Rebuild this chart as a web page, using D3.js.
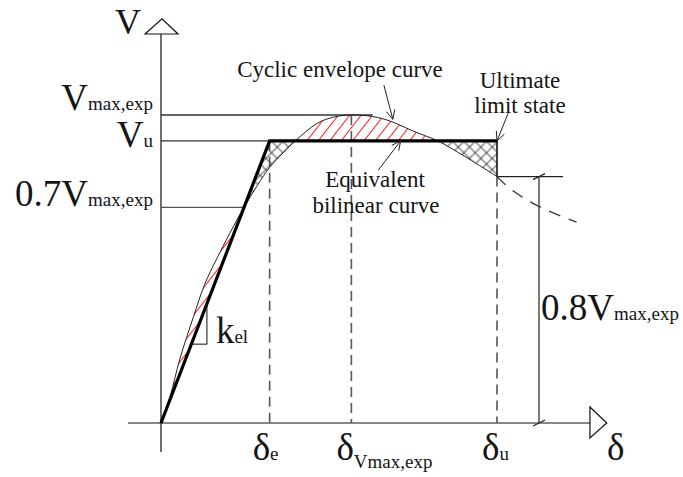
<!DOCTYPE html>
<html>
<head>
<meta charset="utf-8">
<script src="https://cdn.jsdelivr.net/npm/d3@7"></script>
<style>
  body { margin: 0; background: #fff; }
  svg { display: block; font-family: "Liberation Serif", "Times New Roman", serif; }
  text { fill: #151515; }
</style>
</head>
<body>
<div id="chart"></div>
<script>
// displacement (mm-ish) and shear (V / Vmax,exp)
var deltaE = 9.7, deltaVmax = 17, deltaU = 30;
var vMax = 1, vU = 0.916, v07 = 0.7, v08 = 0.8;

// cyclic envelope curve
var envelope = [[0,0],[0.8,0.085],[1.7,0.21],[2.9,0.345],[3.9,0.45],[5.0,0.535],[7.41,0.7],
  [9.7,0.83],[10.9,0.877],[12.0,0.916],[13.9,0.972],[15.4,0.993],[17.0,1.0],[18.9,0.995],
  [20.4,0.981],[22.5,0.948],[24.7,0.916],[27.1,0.866],[30,0.8]];
var envelopeTail = [[30,0.8],[31.3,0.757],[33.8,0.702],[37.1,0.652]];

var width = 683, height = 477;

var x = d3.scaleLinear().domain([0, 40]).range([161, 609]);
var y = d3.scaleLinear().domain([0, 1]).range([423, 115]);

var svg = d3.select('#chart').append('svg')
  .attr('width', width)
  .attr('height', height);

var defs = svg.append('defs');

var red = defs.append('pattern')
  .attr('id', 'redHatch')
  .attr('patternUnits', 'userSpaceOnUse')
  .attr('width', 9).attr('height', 9)
  .attr('patternTransform', 'rotate(38)');
red.append('line').attr('x1', 4.5).attr('x2', 4.5).attr('y1', 0).attr('y2', 9)
  .attr('stroke', '#ff2020').attr('stroke-width', 1);

var cross = defs.append('pattern')
  .attr('id', 'crossHatch')
  .attr('patternUnits', 'userSpaceOnUse')
  .attr('width', 8).attr('height', 8)
  .attr('patternTransform', 'rotate(45)');
cross.append('line').attr('x1', 4).attr('x2', 4).attr('y1', 0).attr('y2', 8)
  .attr('stroke', '#222').attr('stroke-width', 0.8);
cross.append('line').attr('x1', 0).attr('x2', 8).attr('y1', 4).attr('y2', 4)
  .attr('stroke', '#222').attr('stroke-width', 0.8);

var poly = pts => 'M' + pts.map(p => x(p[0]) + ',' + y(p[1])).join('L') + 'Z';

// above / below the bilinear curve
defs.append('clipPath').attr('id', 'above')
  .append('path').attr('d', poly([[-5,0],[0,0],[deltaE,vU],[45,vU],[45,1.5],[-5,1.5]]));
defs.append('clipPath').attr('id', 'below')
  .append('path').attr('d', poly([[0,0],[deltaE,vU],[45,vU],[45,-1],[0,-1]]));

var line = d3.line()
  .x(d => x(d[0]))
  .y(d => y(d[1]))
  .curve(d3.curveCatmullRom.alpha(0.5));

var curveD = line(envelope);
var regionD = curveD + 'L' + x(deltaU) + ',' + y(vU) + 'L' + x(deltaE) + ',' + y(vU) + 'Z';

svg.append('path').attr('d', regionD).attr('fill', 'url(#redHatch)').attr('clip-path', 'url(#above)');
svg.append('path').attr('d', regionD).attr('fill', 'url(#crossHatch)').attr('clip-path', 'url(#below)');

// axes
var ax = svg.append('g').attr('stroke', '#111').attr('stroke-width', 1.2).attr('fill', 'none');
ax.append('line').attr('x1', x(0)).attr('x2', x(0)).attr('y1', y(-0.094)).attr('y2', y(1.263));
ax.append('line').attr('x1', x(-2.95)).attr('x2', x(38.3)).attr('y1', y(0)).attr('y2', y(0));
ax.append('path').attr('fill', '#fff')
  .attr('d', 'M' + (x(0) - 16) + ',' + y(1.263) + 'L' + (x(0) + 1) + ',' + y(1.312) + 'L' + (x(0) + 17) + ',' + y(1.263) + 'Z');
ax.append('path').attr('fill', '#fff')
  .attr('d', 'M' + x(38.3) + ',' + (y(0) - 16) + 'L' + x(39.8) + ',' + y(0) + 'L' + x(38.3) + ',' + (y(0) + 15) + 'Z');

// reference lines
var ref = svg.append('g').attr('stroke', '#333').attr('stroke-width', 1.3);
ref.append('line').attr('x1', x(0)).attr('x2', x(18.9)).attr('y1', y(vMax)).attr('y2', y(vMax));
ref.append('line').attr('x1', x(0)).attr('x2', x(deltaE)).attr('y1', y(vU)).attr('y2', y(vU));
ref.append('line').attr('x1', x(0)).attr('x2', x(7.41)).attr('y1', y(v07)).attr('y2', y(v07)).attr('stroke', '#555');

var dashed = svg.append('g').attr('stroke', '#555').attr('stroke-width', 1.6).attr('stroke-dasharray', '10,6');
dashed.append('line').attr('x1', x(deltaE)).attr('x2', x(deltaE)).attr('y1', y(vU)).attr('y2', y(0));
dashed.append('line').attr('x1', x(deltaVmax)).attr('x2', x(deltaVmax)).attr('y1', y(vMax)).attr('y2', y(0));
dashed.append('line').attr('x1', x(deltaU)).attr('x2', x(deltaU)).attr('y1', y(v08)).attr('y2', y(0));

// envelope curve
svg.append('path').attr('d', curveD).attr('fill', 'none').attr('stroke', '#222').attr('stroke-width', 1);
svg.append('path').attr('d', line(envelopeTail)).attr('fill', 'none').attr('stroke', '#333')
  .attr('stroke-width', 1.3).attr('stroke-dasharray', '12,9');

// ultimate limit vertical
svg.append('line').attr('x1', x(deltaU)).attr('x2', x(deltaU)).attr('y1', y(vU)).attr('y2', y(v08))
  .attr('stroke', '#111').attr('stroke-width', 1.6);

// bilinear curve
svg.append('path')
  .attr('d', d3.line().x(d => x(d[0])).y(d => y(d[1]))([[0,0],[deltaE,vU],[deltaU,vU]]))
  .attr('fill', 'none').attr('stroke', '#000').attr('stroke-width', 3.2).attr('stroke-linejoin', 'miter');

// kel slope triangle
var kD = 4.1, kV = 0.256;
var tri = svg.append('g').attr('stroke', '#222').attr('stroke-width', 1.1);
tri.append('line').attr('x1', x(kV * deltaE / vU)).attr('x2', x(kD)).attr('y1', y(kV)).attr('y2', y(kV));
tri.append('line').attr('x1', x(kD)).attr('x2', x(kD)).attr('y1', y(kV)).attr('y2', y(kD * vU / deltaE));

// 0.8 Vmax dimension
var dimX = 33.75;
var dim = svg.append('g').attr('stroke', '#222').attr('stroke-width', 1.2);
dim.append('line').attr('x1', x(deltaU)).attr('x2', x(35.9)).attr('y1', y(v08)).attr('y2', y(v08));
dim.append('line').attr('x1', x(dimX)).attr('x2', x(dimX)).attr('y1', y(v08)).attr('y2', y(0));
[v08, 0].forEach(function(v) {
  dim.append('line').attr('x1', x(dimX) - 6).attr('x2', x(dimX) + 6)
    .attr('y1', y(v) + 3).attr('y2', y(v) - 3);
});

// annotation arrows
function arrow(from, to) {
  var x1 = x(from[0]), y1 = y(from[1]), x2 = x(to[0]), y2 = y(to[1]);
  var a = Math.atan2(y2 - y1, x2 - x1), L = 10, s = 0.45;
  var g = svg.append('g').attr('stroke', '#222').attr('stroke-width', 1).attr('fill', 'none');
  g.append('line').attr('x1', x1).attr('y1', y1).attr('x2', x2).attr('y2', y2);
  g.append('path').attr('d', 'M' + (x2 - L * Math.cos(a - s)) + ',' + (y2 - L * Math.sin(a - s)) +
    'L' + x2 + ',' + y2 + 'L' + (x2 - L * Math.cos(a + s)) + ',' + (y2 - L * Math.sin(a + s)));
}
arrow([19.9, 1.097], [20.7, 0.986]);
arrow([31.0, 1.006], [deltaU, vU]);
arrow([19.4, 0.821], [21.4, vU]);

// labels
function label(px, py, main, sub, anchor, size, subDy) {
  var t = svg.append('text').attr('x', px).attr('y', py)
    .attr('text-anchor', anchor || 'start').attr('font-size', size || 37);
  t.append('tspan').text(main);
  if (sub) t.append('tspan').attr('font-size', 19).attr('dy', subDy || 0).text(sub);
  return t;
}
label(115, 34, 'V', null, 'start', 36);
label(153, y(vMax) - 5, 'V', 'max,exp', 'end');
label(153, y(vU) + 6, 'V', 'u', 'end');
label(153, y(v07) - 1, '0.7V', 'max,exp', 'end');
label(x(deltaE) - 17, 460, 'δ', 'e');
label(x(deltaVmax) - 15, 460, 'δ', 'Vmax,exp', 'start', 37, 8);
label(x(deltaU) - 15, 460, 'δ', 'u');
label(607, 460, 'δ');
label(x(kD) + 9, 343, 'k', 'el');
label(541, 320, '0.8V', 'max,exp');

var ann = [
  ['Cyclic envelope curve', 340, 77],
  ['Ultimate', 520, 88],
  ['limit state', 520, 113],
  ['Equivalent', 375, 187],
  ['bilinear curve', 376, 213]
];
svg.selectAll('text.ann').data(ann).join('text')
  .attr('class', 'ann')
  .attr('x', d => d[1]).attr('y', d => d[2])
  .attr('text-anchor', 'middle').attr('font-size', 23)
  .text(d => d[0]);
</script>
</body>
</html>
